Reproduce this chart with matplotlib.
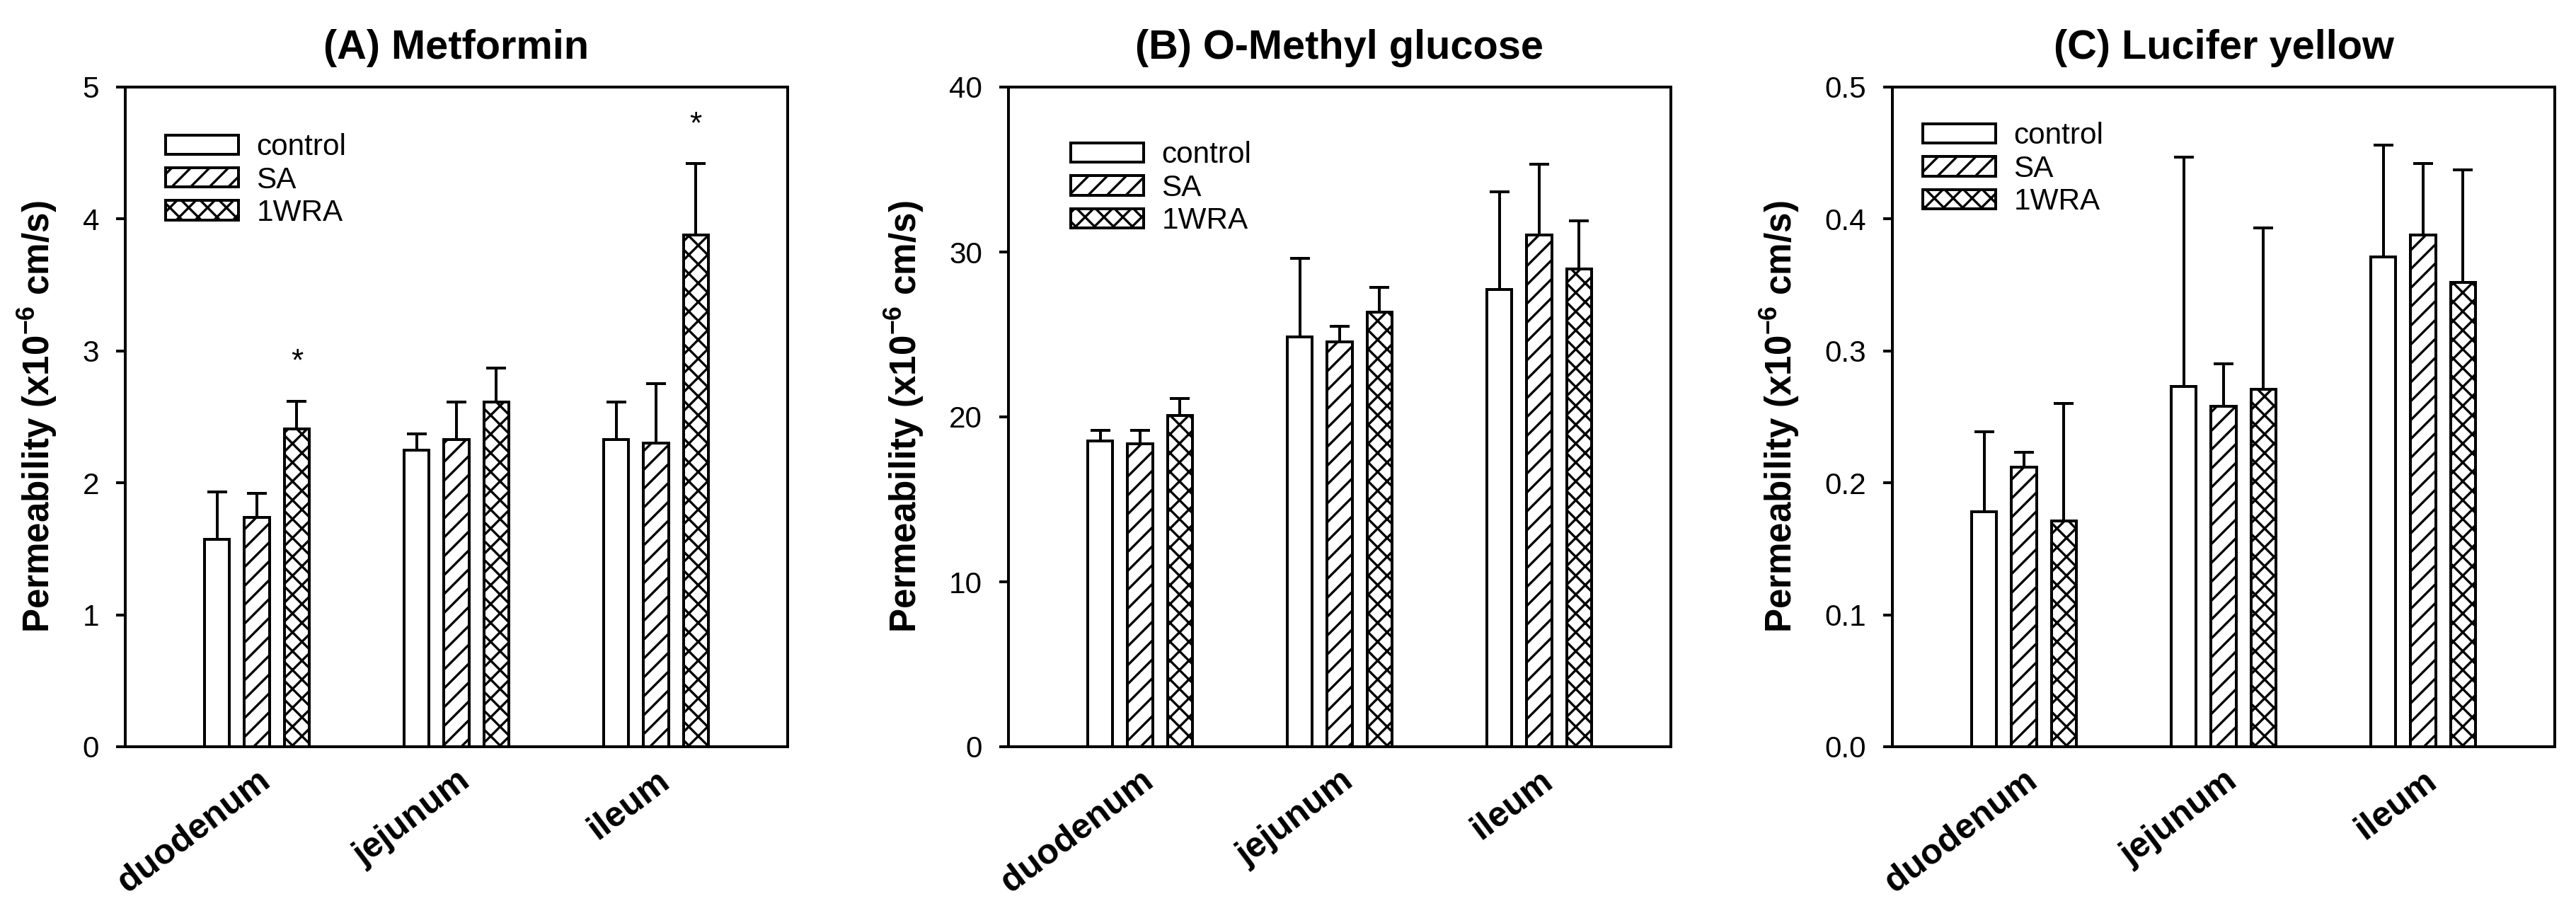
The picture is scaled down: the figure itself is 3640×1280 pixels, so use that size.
import matplotlib
matplotlib.use('Agg')
import matplotlib.pyplot as plt
import numpy as np

plt.rcParams['font.family'] = ['Liberation Sans', 'DejaVu Sans']
plt.rcParams['mathtext.fontset'] = 'custom'
plt.rcParams['mathtext.rm'] = 'Liberation Sans:bold'
plt.rcParams['mathtext.default'] = 'rm'
plt.rcParams['hatch.linewidth'] = 1.5

# ---------------- data ----------------
segments = ['duodenum', 'jejunum', 'ileum']
groups = ['control', 'SA', '1WRA']

# (A) Metformin
met_control = [1.57, 2.25, 2.33]
met_control_sem = [0.36, 0.12, 0.28]
met_sa = [1.74, 2.33, 2.30]
met_sa_sem = [0.18, 0.28, 0.45]
met_1wra = [2.41, 2.61, 3.88]
met_1wra_sem = [0.21, 0.26, 0.54]
met_1wra_sig = ['*', '', '*']

# (B) O-Methyl glucose
omg_control = [18.56, 24.84, 27.72]
omg_control_sem = [0.64, 4.76, 5.93]
omg_sa = [18.35, 24.53, 31.02]
omg_sa_sem = [0.85, 0.97, 4.31]
omg_1wra = [20.07, 26.35, 28.98]
omg_1wra_sem = [1.03, 1.51, 2.92]

# (C) Lucifer yellow
ly_control = [0.178, 0.273, 0.371]
ly_control_sem = [0.061, 0.174, 0.085]
ly_sa = [0.212, 0.258, 0.388]
ly_sa_sem = [0.011, 0.032, 0.054]
ly_1wra = [0.171, 0.271, 0.352]
ly_1wra_sem = [0.089, 0.122, 0.085]

titles = ['(A) Metformin', '(B) O-Methyl glucose', '(C) Lucifer yellow']
ymaxes = [5, 40, 0.5]
yticks_list = [[0, 1, 2, 3, 4, 5], [0, 10, 20, 30, 40], [0.0, 0.1, 0.2, 0.3, 0.4, 0.5]]
ytick_labels_list = [['0', '1', '2', '3', '4', '5'], ['0', '10', '20', '30', '40'],
                     ['0.0', '0.1', '0.2', '0.3', '0.4', '0.5']]

panels = [
    ([met_control, met_sa, met_1wra], [met_control_sem, met_sa_sem, met_1wra_sem], [None, None, met_1wra_sig]),
    ([omg_control, omg_sa, omg_1wra], [omg_control_sem, omg_sa_sem, omg_1wra_sem], [None, None, None]),
    ([ly_control, ly_sa, ly_1wra], [ly_control_sem, ly_sa_sem, ly_1wra_sem], [None, None, None]),
]

hatches = ['', '//', 'xx']
offsets = [-0.2, 0.0, 0.2]
bar_w = 0.125
LW = 1.8

W, H, DPI = 3640, 1280, 160
fig = plt.figure(figsize=(W / DPI, H / DPI), dpi=DPI)

ax_lefts = [177, 1425, 2674]
ax_w = 936
ax_top, ax_bot = 123, 1055
legend_anchor = [(0.061, 0.93), (0.094, 0.918), (0.046, 0.947)]

for i, (means, sems, sigs) in enumerate(panels):
    ax = fig.add_axes([ax_lefts[i] / W, (H - ax_bot) / H, ax_w / W, (ax_bot - ax_top) / H])
    x = np.arange(len(segments))
    handles = []
    for g in range(3):
        xs = x + offsets[g]
        b = ax.bar(xs, means[g], bar_w, color='white', edgecolor='black',
                   linewidth=LW, hatch=hatches[g], zorder=3, label=groups[g])
        handles.append(b)
        ax.errorbar(xs, means[g], yerr=[np.zeros(3), sems[g]], fmt='none',
                    ecolor='black', elinewidth=LW, capsize=6.3, capthick=LW, zorder=2)
        if sigs[g] is not None:
            for k in range(3):
                if sigs[g][k]:
                    top = means[g][k] + sems[g][k]
                    ax.text(xs[k], top + 0.046 * ymaxes[i], sigs[g][k], ha='center',
                            va='baseline', fontsize=20)
    ax.set_xlim(-0.66, 2.66)
    ax.set_ylim(0, ymaxes[i])
    ax.set_yticks(yticks_list[i])
    ax.set_yticklabels(ytick_labels_list[i])
    ax.set_xticks(x)
    ax.set_xticklabels(segments, rotation=37, ha='right', va='top',
                       rotation_mode='anchor', fontsize=22.5, fontweight='bold')
    ax.tick_params(axis='x', length=0, pad=11)
    ax.tick_params(axis='y', direction='out', length=5.85, width=LW, labelsize=19, pad=10.8)
    for s in ax.spines.values():
        s.set_linewidth(LW)
    ax.set_ylabel(r'Permeability (x10$^{-6}$ cm/s)', fontsize=23, fontweight='bold', labelpad=15)
    ax.set_title(titles[i], fontsize=26, fontweight='bold', pad=18)
    leg = ax.legend(handles=handles, labels=groups, loc='upper left',
                    bbox_to_anchor=legend_anchor[i], frameon=False, fontsize=19,
                    handlelength=2.44, handleheight=0.62, handletextpad=0.6,
                    labelspacing=0.15, borderpad=0, borderaxespad=0)

fig.savefig('out.png', dpi=DPI)
